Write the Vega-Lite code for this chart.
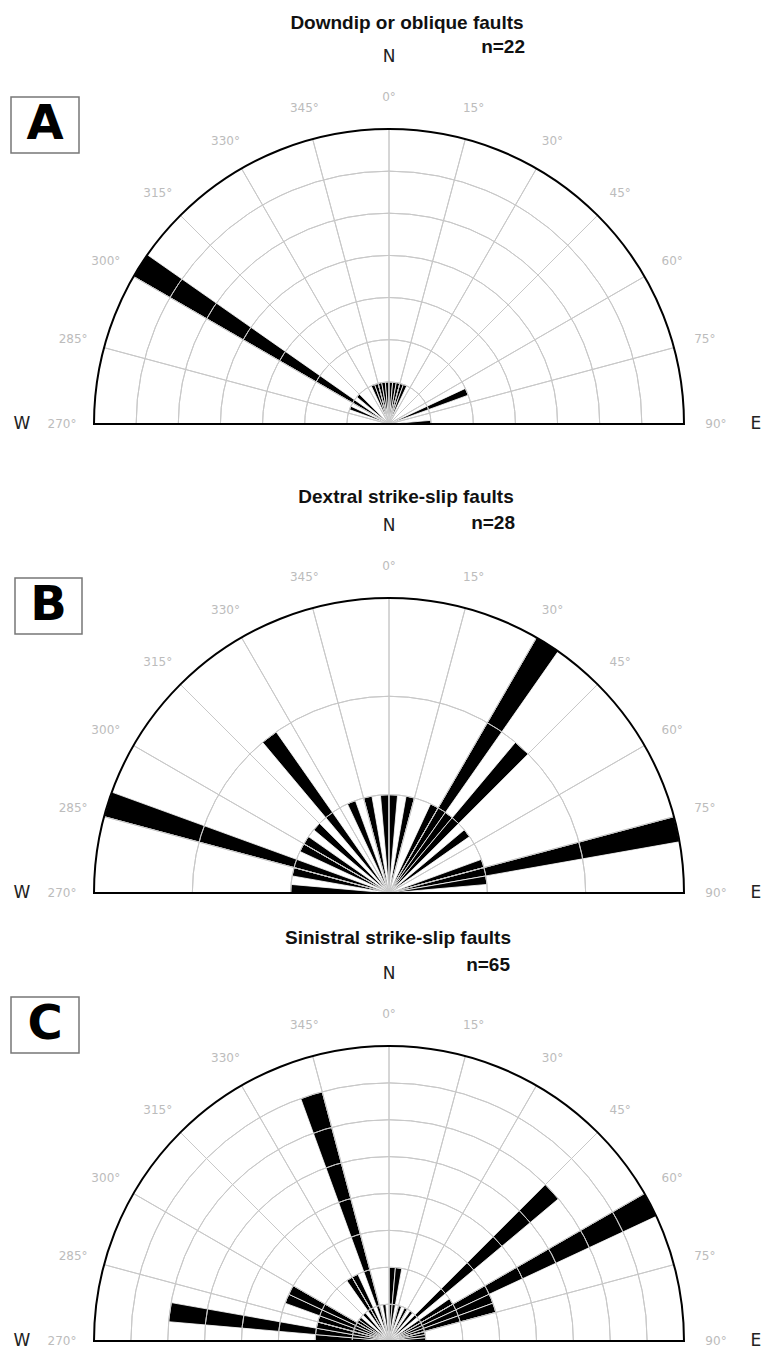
{
  "$schema": "https://vega.github.io/schema/vega-lite/v6.json",
  "padding": 0,
  "background": "white",
  "spacing": 0,
  "bounds": "flush",
  "config": {"view": {"stroke": null}, "axis": {"disable": true}},
  "datasets": {
    "petalsA": [
      {"from": 290, "to": 295, "n": 1}, {"from": 300, "to": 305, "n": 7}, {"from": 310, "to": 315, "n": 1},
      {"from": 335, "to": 340, "n": 1}, {"from": 340, "to": 345, "n": 1}, {"from": 345, "to": 350, "n": 1},
      {"from": 350, "to": 355, "n": 1}, {"from": 355, "to": 360, "n": 1}, {"from": 0, "to": 5, "n": 1},
      {"from": 5, "to": 10, "n": 1}, {"from": 10, "to": 15, "n": 1}, {"from": 15, "to": 20, "n": 1},
      {"from": 20, "to": 25, "n": 1}, {"from": 65, "to": 70, "n": 2}, {"from": 85, "to": 90, "n": 1}
    ],
    "petalsB": [
      {"from": 270, "to": 275, "n": 1}, {"from": 280, "to": 285, "n": 1}, {"from": 285, "to": 290, "n": 3},
      {"from": 295, "to": 300, "n": 1}, {"from": 300, "to": 305, "n": 1}, {"from": 310, "to": 315, "n": 1},
      {"from": 320, "to": 325, "n": 2}, {"from": 335, "to": 340, "n": 1}, {"from": 345, "to": 350, "n": 1},
      {"from": 355, "to": 360, "n": 1}, {"from": 0, "to": 5, "n": 1}, {"from": 10, "to": 15, "n": 1},
      {"from": 25, "to": 30, "n": 1}, {"from": 30, "to": 35, "n": 3}, {"from": 35, "to": 40, "n": 1},
      {"from": 40, "to": 45, "n": 2}, {"from": 50, "to": 55, "n": 1}, {"from": 70, "to": 75, "n": 1},
      {"from": 75, "to": 80, "n": 3}, {"from": 80, "to": 85, "n": 1}
    ],
    "petalsC": [
      {"from": 270, "to": 275, "n": 2}, {"from": 275, "to": 280, "n": 6}, {"from": 280, "to": 285, "n": 2},
      {"from": 285, "to": 290, "n": 2}, {"from": 290, "to": 295, "n": 3}, {"from": 295, "to": 300, "n": 3},
      {"from": 300, "to": 305, "n": 1}, {"from": 305, "to": 310, "n": 1}, {"from": 315, "to": 320, "n": 1},
      {"from": 325, "to": 330, "n": 2}, {"from": 330, "to": 335, "n": 2}, {"from": 340, "to": 345, "n": 7},
      {"from": 350, "to": 355, "n": 1}, {"from": 0, "to": 5, "n": 2}, {"from": 5, "to": 10, "n": 2},
      {"from": 15, "to": 20, "n": 1}, {"from": 25, "to": 30, "n": 1}, {"from": 35, "to": 40, "n": 1},
      {"from": 45, "to": 50, "n": 6}, {"from": 55, "to": 60, "n": 2}, {"from": 60, "to": 65, "n": 8},
      {"from": 65, "to": 70, "n": 3}, {"from": 70, "to": 75, "n": 3}, {"from": 75, "to": 80, "n": 1},
      {"from": 80, "to": 85, "n": 1}, {"from": 85, "to": 90, "n": 1}
    ],
    "ringsA": [{"r": 1}, {"r": 2}, {"r": 3}, {"r": 4}, {"r": 5}, {"r": 6}],
    "ringsB": [{"r": 1}, {"r": 2}],
    "ringsC": [{"r": 1}, {"r": 2}, {"r": 3}, {"r": 4}, {"r": 5}, {"r": 6}, {"r": 7}],
    "spokes": [{"a": 285}, {"a": 300}, {"a": 315}, {"a": 330}, {"a": 345}, {"a": 0}, {"a": 15}, {"a": 30}, {"a": 45}, {"a": 60}, {"a": 75}],
    "labels": [
      {"a": 270, "t": "270°"}, {"a": 285, "t": "285°"}, {"a": 300, "t": "300°"}, {"a": 315, "t": "315°"},
      {"a": 330, "t": "330°"}, {"a": 345, "t": "345°"}, {"a": 0, "t": "0°"}, {"a": 15, "t": "15°"},
      {"a": 30, "t": "30°"}, {"a": 45, "t": "45°"}, {"a": 60, "t": "60°"}, {"a": 75, "t": "75°"}, {"a": 90, "t": "90°"}
    ],
    "compass": [{"a": 0, "t": "N"}, {"a": 90, "t": "E"}, {"a": 270, "t": "W"}],
    "one": [{}]
  },
  "vconcat": [
    {
      "width": 764, "height": 450,
      "layer": [
        {"data": {"name": "petalsA"},
         "mark": {"type": "arc", "fill": "#000000", "stroke": "#ffffff", "strokeWidth": 0.8},
         "encoding": {
           "x": {"datum": 0, "scale": {"domain": [-389, 375], "nice": false, "zero": false}, "axis": null},
           "y": {"datum": 0, "scale": {"domain": [-26, 424], "nice": false, "zero": false}, "axis": null},
           "theta": {"field": "from", "type": "quantitative", "stack": null, "scale": {"domain": [0, 360], "range": [0, 6.283185307179586], "nice": false, "zero": false}},
           "theta2": {"field": "to"},
           "radius": {"field": "n", "type": "quantitative", "scale": {"type": "linear", "domain": [0, 7], "range": [0, 295], "nice": false, "zero": true}}
         }},
        {"data": {"name": "ringsA"},
         "mark": {"type": "arc", "filled": false, "stroke": "#c8c8c8", "strokeWidth": 1},
         "encoding": {
           "x": {"datum": 0, "scale": {"domain": [-389, 375], "nice": false, "zero": false}, "axis": null},
           "y": {"datum": 0, "scale": {"domain": [-26, 424], "nice": false, "zero": false}, "axis": null},
           "theta": {"datum": -90, "scale": {"domain": [0, 360], "range": [0, 6.283185307179586], "nice": false, "zero": false}},
           "theta2": {"datum": 90},
           "radius": {"field": "r", "type": "quantitative", "scale": {"type": "linear", "domain": [0, 7], "range": [0, 295], "nice": false, "zero": true}},
           "radius2": {"field": "r"}
         }},
        {"data": {"name": "spokes"},
         "mark": {"type": "arc", "filled": false, "stroke": "#c8c8c8", "strokeWidth": 1},
         "encoding": {
           "x": {"datum": 0, "scale": {"domain": [-389, 375], "nice": false, "zero": false}, "axis": null},
           "y": {"datum": 0, "scale": {"domain": [-26, 424], "nice": false, "zero": false}, "axis": null},
           "theta": {"field": "a", "type": "quantitative", "stack": null, "scale": {"domain": [0, 360], "range": [0, 6.283185307179586], "nice": false, "zero": false}},
           "theta2": {"field": "a"},
           "radius": {"datum": 7, "scale": {"type": "linear", "domain": [0, 7], "range": [0, 295], "nice": false, "zero": true}}
         }},
        {"data": {"name": "one"},
         "mark": {"type": "arc", "filled": false, "stroke": "#000000", "strokeWidth": 2},
         "encoding": {
           "x": {"datum": 0, "scale": {"domain": [-389, 375], "nice": false, "zero": false}, "axis": null},
           "y": {"datum": 0, "scale": {"domain": [-26, 424], "nice": false, "zero": false}, "axis": null},
           "theta": {"datum": -90, "scale": {"domain": [0, 360], "range": [0, 6.283185307179586], "nice": false, "zero": false}},
           "theta2": {"datum": 90},
           "radius": {"datum": 7, "scale": {"type": "linear", "domain": [0, 7], "range": [0, 295], "nice": false, "zero": true}}
         }},
        {"data": {"name": "labels"},
         "mark": {"type": "text", "font": "DejaVu Sans", "fontSize": 12, "fill": "#bcbcbc", "align": "center", "baseline": "middle"},
         "encoding": {
           "x": {"datum": 0, "scale": {"domain": [-389, 375], "nice": false, "zero": false}, "axis": null},
           "y": {"datum": 0, "scale": {"domain": [-26, 424], "nice": false, "zero": false}, "axis": null},
           "theta": {"field": "a", "type": "quantitative", "stack": null, "scale": {"domain": [0, 360], "range": [0, 6.283185307179586], "nice": false, "zero": false}},
           "radius": {"datum": 7.759, "scale": {"type": "linear", "domain": [0, 7], "range": [0, 295], "nice": false, "zero": true}},
           "text": {"field": "t"}
         }},
        {"data": {"name": "compass"},
         "mark": {"type": "text", "font": "DejaVu Sans", "fontSize": 17, "fill": "#222222", "align": "center", "baseline": "middle"},
         "encoding": {
           "x": {"datum": 0, "scale": {"domain": [-389, 375], "nice": false, "zero": false}, "axis": null},
           "y": {"datum": 0, "scale": {"domain": [-26, 424], "nice": false, "zero": false}, "axis": null},
           "theta": {"field": "a", "type": "quantitative", "stack": null, "scale": {"domain": [0, 360], "range": [0, 6.283185307179586], "nice": false, "zero": false}},
           "radius": {"datum": 8.708, "scale": {"type": "linear", "domain": [0, 7], "range": [0, 295], "nice": false, "zero": true}},
           "text": {"field": "t"}
         }},
        {"data": {"name": "one"},
         "mark": {"type": "text", "font": "Liberation Sans", "fontWeight": "bold", "fontSize": 19, "fill": "#111111", "align": "center", "baseline": "middle"},
         "encoding": {
           "x": {"datum": 18, "scale": {"domain": [-389, 375], "nice": false, "zero": false}, "axis": null},
           "y": {"datum": 401, "scale": {"domain": [-26, 424], "nice": false, "zero": false}, "axis": null},
           "text": {"value": "Downdip or oblique faults"}
         }},
        {"data": {"name": "one"},
         "mark": {"type": "text", "font": "Liberation Sans", "fontWeight": "bold", "fontSize": 19, "fill": "#111111", "align": "right", "baseline": "middle"},
         "encoding": {
           "x": {"datum": 136, "scale": {"domain": [-389, 375], "nice": false, "zero": false}, "axis": null},
           "y": {"datum": 377, "scale": {"domain": [-26, 424], "nice": false, "zero": false}, "axis": null},
           "text": {"value": "n=22"}
         }},
        {"data": {"name": "one"},
         "mark": {"type": "rect", "fill": "#ffffff", "stroke": "#777777", "strokeWidth": 1.5},
         "encoding": {
           "x": {"datum": -378, "scale": {"domain": [-389, 375], "nice": false, "zero": false}, "axis": null},
           "x2": {"datum": -310},
           "y": {"datum": 327, "scale": {"domain": [-26, 424], "nice": false, "zero": false}, "axis": null},
           "y2": {"datum": 271}
         }},
        {"data": {"name": "one"},
         "mark": {"type": "text", "font": "DejaVu Sans", "fontWeight": "bold", "fontSize": 48, "fill": "#000000", "align": "center", "baseline": "middle"},
         "encoding": {
           "x": {"datum": -344, "scale": {"domain": [-389, 375], "nice": false, "zero": false}, "axis": null},
           "y": {"datum": 299, "scale": {"domain": [-26, 424], "nice": false, "zero": false}, "axis": null},
           "text": {"value": "A"}
         }}
      ]
    },
    {
      "width": 764, "height": 450,
      "layer": [
        {"data": {"name": "petalsB"},
         "mark": {"type": "arc", "fill": "#000000", "stroke": "#ffffff", "strokeWidth": 0.8},
         "encoding": {
           "x": {"datum": 0, "scale": {"domain": [-389, 375], "nice": false, "zero": false}, "axis": null},
           "y": {"datum": 0, "scale": {"domain": [-7, 443], "nice": false, "zero": false}, "axis": null},
           "theta": {"field": "from", "type": "quantitative", "stack": null, "scale": {"domain": [0, 360], "range": [0, 6.283185307179586], "nice": false, "zero": false}},
           "theta2": {"field": "to"},
           "radius": {"field": "n", "type": "quantitative", "scale": {"type": "linear", "domain": [0, 3], "range": [0, 295], "nice": false, "zero": true}}
         }},
        {"data": {"name": "ringsB"},
         "mark": {"type": "arc", "filled": false, "stroke": "#c8c8c8", "strokeWidth": 1},
         "encoding": {
           "x": {"datum": 0, "scale": {"domain": [-389, 375], "nice": false, "zero": false}, "axis": null},
           "y": {"datum": 0, "scale": {"domain": [-7, 443], "nice": false, "zero": false}, "axis": null},
           "theta": {"datum": -90, "scale": {"domain": [0, 360], "range": [0, 6.283185307179586], "nice": false, "zero": false}},
           "theta2": {"datum": 90},
           "radius": {"field": "r", "type": "quantitative", "scale": {"type": "linear", "domain": [0, 3], "range": [0, 295], "nice": false, "zero": true}},
           "radius2": {"field": "r"}
         }},
        {"data": {"name": "spokes"},
         "mark": {"type": "arc", "filled": false, "stroke": "#c8c8c8", "strokeWidth": 1},
         "encoding": {
           "x": {"datum": 0, "scale": {"domain": [-389, 375], "nice": false, "zero": false}, "axis": null},
           "y": {"datum": 0, "scale": {"domain": [-7, 443], "nice": false, "zero": false}, "axis": null},
           "theta": {"field": "a", "type": "quantitative", "stack": null, "scale": {"domain": [0, 360], "range": [0, 6.283185307179586], "nice": false, "zero": false}},
           "theta2": {"field": "a"},
           "radius": {"datum": 3, "scale": {"type": "linear", "domain": [0, 3], "range": [0, 295], "nice": false, "zero": true}}
         }},
        {"data": {"name": "one"},
         "mark": {"type": "arc", "filled": false, "stroke": "#000000", "strokeWidth": 2},
         "encoding": {
           "x": {"datum": 0, "scale": {"domain": [-389, 375], "nice": false, "zero": false}, "axis": null},
           "y": {"datum": 0, "scale": {"domain": [-7, 443], "nice": false, "zero": false}, "axis": null},
           "theta": {"datum": -90, "scale": {"domain": [0, 360], "range": [0, 6.283185307179586], "nice": false, "zero": false}},
           "theta2": {"datum": 90},
           "radius": {"datum": 3, "scale": {"type": "linear", "domain": [0, 3], "range": [0, 295], "nice": false, "zero": true}}
         }},
        {"data": {"name": "labels"},
         "mark": {"type": "text", "font": "DejaVu Sans", "fontSize": 12, "fill": "#bcbcbc", "align": "center", "baseline": "middle"},
         "encoding": {
           "x": {"datum": 0, "scale": {"domain": [-389, 375], "nice": false, "zero": false}, "axis": null},
           "y": {"datum": 0, "scale": {"domain": [-7, 443], "nice": false, "zero": false}, "axis": null},
           "theta": {"field": "a", "type": "quantitative", "stack": null, "scale": {"domain": [0, 360], "range": [0, 6.283185307179586], "nice": false, "zero": false}},
           "radius": {"datum": 3.3254, "scale": {"type": "linear", "domain": [0, 3], "range": [0, 295], "nice": false, "zero": true}},
           "text": {"field": "t"}
         }},
        {"data": {"name": "compass"},
         "mark": {"type": "text", "font": "DejaVu Sans", "fontSize": 17, "fill": "#222222", "align": "center", "baseline": "middle"},
         "encoding": {
           "x": {"datum": 0, "scale": {"domain": [-389, 375], "nice": false, "zero": false}, "axis": null},
           "y": {"datum": 0, "scale": {"domain": [-7, 443], "nice": false, "zero": false}, "axis": null},
           "theta": {"field": "a", "type": "quantitative", "stack": null, "scale": {"domain": [0, 360], "range": [0, 6.283185307179586], "nice": false, "zero": false}},
           "radius": {"datum": 3.7322, "scale": {"type": "linear", "domain": [0, 3], "range": [0, 295], "nice": false, "zero": true}},
           "text": {"field": "t"}
         }},
        {"data": {"name": "one"},
         "mark": {"type": "text", "font": "Liberation Sans", "fontWeight": "bold", "fontSize": 19, "fill": "#111111", "align": "center", "baseline": "middle"},
         "encoding": {
           "x": {"datum": 17, "scale": {"domain": [-389, 375], "nice": false, "zero": false}, "axis": null},
           "y": {"datum": 396, "scale": {"domain": [-7, 443], "nice": false, "zero": false}, "axis": null},
           "text": {"value": "Dextral strike-slip faults"}
         }},
        {"data": {"name": "one"},
         "mark": {"type": "text", "font": "Liberation Sans", "fontWeight": "bold", "fontSize": 19, "fill": "#111111", "align": "right", "baseline": "middle"},
         "encoding": {
           "x": {"datum": 126, "scale": {"domain": [-389, 375], "nice": false, "zero": false}, "axis": null},
           "y": {"datum": 370, "scale": {"domain": [-7, 443], "nice": false, "zero": false}, "axis": null},
           "text": {"value": "n=28"}
         }},
        {"data": {"name": "one"},
         "mark": {"type": "rect", "fill": "#ffffff", "stroke": "#777777", "strokeWidth": 1.5},
         "encoding": {
           "x": {"datum": -374, "scale": {"domain": [-389, 375], "nice": false, "zero": false}, "axis": null},
           "x2": {"datum": -307},
           "y": {"datum": 315, "scale": {"domain": [-7, 443], "nice": false, "zero": false}, "axis": null},
           "y2": {"datum": 259}
         }},
        {"data": {"name": "one"},
         "mark": {"type": "text", "font": "DejaVu Sans", "fontWeight": "bold", "fontSize": 48, "fill": "#000000", "align": "center", "baseline": "middle"},
         "encoding": {
           "x": {"datum": -340.5, "scale": {"domain": [-389, 375], "nice": false, "zero": false}, "axis": null},
           "y": {"datum": 287, "scale": {"domain": [-7, 443], "nice": false, "zero": false}, "axis": null},
           "text": {"value": "B"}
         }}
      ]
    },
    {
      "width": 764, "height": 451,
      "layer": [
        {"data": {"name": "petalsC"},
         "mark": {"type": "arc", "fill": "#000000", "stroke": "#ffffff", "strokeWidth": 0.8},
         "encoding": {
           "x": {"datum": 0, "scale": {"domain": [-389, 375], "nice": false, "zero": false}, "axis": null},
           "y": {"datum": 0, "scale": {"domain": [-10, 441], "nice": false, "zero": false}, "axis": null},
           "theta": {"field": "from", "type": "quantitative", "stack": null, "scale": {"domain": [0, 360], "range": [0, 6.283185307179586], "nice": false, "zero": false}},
           "theta2": {"field": "to"},
           "radius": {"field": "n", "type": "quantitative", "scale": {"type": "linear", "domain": [0, 8], "range": [0, 295], "nice": false, "zero": true}}
         }},
        {"data": {"name": "ringsC"},
         "mark": {"type": "arc", "filled": false, "stroke": "#c8c8c8", "strokeWidth": 1},
         "encoding": {
           "x": {"datum": 0, "scale": {"domain": [-389, 375], "nice": false, "zero": false}, "axis": null},
           "y": {"datum": 0, "scale": {"domain": [-10, 441], "nice": false, "zero": false}, "axis": null},
           "theta": {"datum": -90, "scale": {"domain": [0, 360], "range": [0, 6.283185307179586], "nice": false, "zero": false}},
           "theta2": {"datum": 90},
           "radius": {"field": "r", "type": "quantitative", "scale": {"type": "linear", "domain": [0, 8], "range": [0, 295], "nice": false, "zero": true}},
           "radius2": {"field": "r"}
         }},
        {"data": {"name": "spokes"},
         "mark": {"type": "arc", "filled": false, "stroke": "#c8c8c8", "strokeWidth": 1},
         "encoding": {
           "x": {"datum": 0, "scale": {"domain": [-389, 375], "nice": false, "zero": false}, "axis": null},
           "y": {"datum": 0, "scale": {"domain": [-10, 441], "nice": false, "zero": false}, "axis": null},
           "theta": {"field": "a", "type": "quantitative", "stack": null, "scale": {"domain": [0, 360], "range": [0, 6.283185307179586], "nice": false, "zero": false}},
           "theta2": {"field": "a"},
           "radius": {"datum": 8, "scale": {"type": "linear", "domain": [0, 8], "range": [0, 295], "nice": false, "zero": true}}
         }},
        {"data": {"name": "one"},
         "mark": {"type": "arc", "filled": false, "stroke": "#000000", "strokeWidth": 2},
         "encoding": {
           "x": {"datum": 0, "scale": {"domain": [-389, 375], "nice": false, "zero": false}, "axis": null},
           "y": {"datum": 0, "scale": {"domain": [-10, 441], "nice": false, "zero": false}, "axis": null},
           "theta": {"datum": -90, "scale": {"domain": [0, 360], "range": [0, 6.283185307179586], "nice": false, "zero": false}},
           "theta2": {"datum": 90},
           "radius": {"datum": 8, "scale": {"type": "linear", "domain": [0, 8], "range": [0, 295], "nice": false, "zero": true}}
         }},
        {"data": {"name": "labels"},
         "mark": {"type": "text", "font": "DejaVu Sans", "fontSize": 12, "fill": "#bcbcbc", "align": "center", "baseline": "middle"},
         "encoding": {
           "x": {"datum": 0, "scale": {"domain": [-389, 375], "nice": false, "zero": false}, "axis": null},
           "y": {"datum": 0, "scale": {"domain": [-10, 441], "nice": false, "zero": false}, "axis": null},
           "theta": {"field": "a", "type": "quantitative", "stack": null, "scale": {"domain": [0, 360], "range": [0, 6.283185307179586], "nice": false, "zero": false}},
           "radius": {"datum": 8.8678, "scale": {"type": "linear", "domain": [0, 8], "range": [0, 295], "nice": false, "zero": true}},
           "text": {"field": "t"}
         }},
        {"data": {"name": "compass"},
         "mark": {"type": "text", "font": "DejaVu Sans", "fontSize": 17, "fill": "#222222", "align": "center", "baseline": "middle"},
         "encoding": {
           "x": {"datum": 0, "scale": {"domain": [-389, 375], "nice": false, "zero": false}, "axis": null},
           "y": {"datum": 0, "scale": {"domain": [-10, 441], "nice": false, "zero": false}, "axis": null},
           "theta": {"field": "a", "type": "quantitative", "stack": null, "scale": {"domain": [0, 360], "range": [0, 6.283185307179586], "nice": false, "zero": false}},
           "radius": {"datum": 9.9525, "scale": {"type": "linear", "domain": [0, 8], "range": [0, 295], "nice": false, "zero": true}},
           "text": {"field": "t"}
         }},
        {"data": {"name": "one"},
         "mark": {"type": "text", "font": "Liberation Sans", "fontWeight": "bold", "fontSize": 19, "fill": "#111111", "align": "center", "baseline": "middle"},
         "encoding": {
           "x": {"datum": 9, "scale": {"domain": [-389, 375], "nice": false, "zero": false}, "axis": null},
           "y": {"datum": 403, "scale": {"domain": [-10, 441], "nice": false, "zero": false}, "axis": null},
           "text": {"value": "Sinistral strike-slip faults"}
         }},
        {"data": {"name": "one"},
         "mark": {"type": "text", "font": "Liberation Sans", "fontWeight": "bold", "fontSize": 19, "fill": "#111111", "align": "right", "baseline": "middle"},
         "encoding": {
           "x": {"datum": 121, "scale": {"domain": [-389, 375], "nice": false, "zero": false}, "axis": null},
           "y": {"datum": 376, "scale": {"domain": [-10, 441], "nice": false, "zero": false}, "axis": null},
           "text": {"value": "n=65"}
         }},
        {"data": {"name": "one"},
         "mark": {"type": "rect", "fill": "#ffffff", "stroke": "#777777", "strokeWidth": 1.5},
         "encoding": {
           "x": {"datum": -378, "scale": {"domain": [-389, 375], "nice": false, "zero": false}, "axis": null},
           "x2": {"datum": -310},
           "y": {"datum": 344, "scale": {"domain": [-10, 441], "nice": false, "zero": false}, "axis": null},
           "y2": {"datum": 288}
         }},
        {"data": {"name": "one"},
         "mark": {"type": "text", "font": "DejaVu Sans", "fontWeight": "bold", "fontSize": 48, "fill": "#000000", "align": "center", "baseline": "middle"},
         "encoding": {
           "x": {"datum": -344, "scale": {"domain": [-389, 375], "nice": false, "zero": false}, "axis": null},
           "y": {"datum": 316, "scale": {"domain": [-10, 441], "nice": false, "zero": false}, "axis": null},
           "text": {"value": "C"}
         }}
      ]
    }
  ]
}
